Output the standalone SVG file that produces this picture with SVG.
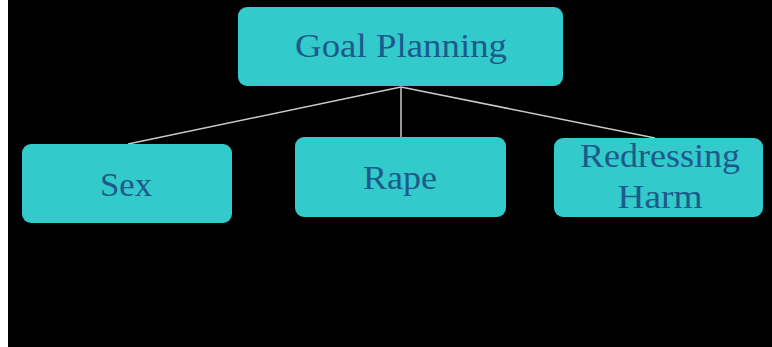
<svg xmlns="http://www.w3.org/2000/svg" width="772" height="347" viewBox="0 0 772 347">
  <style>
    .node { fill: #33CACB; }
    .label { font-family: "Liberation Serif", "Times New Roman", serif; font-size: 33px; fill: #1D5A8A; text-anchor: middle; }
    .conn { stroke: #C8C8C8; stroke-width: 1.5; fill: none; }
  </style>
  <rect x="0" y="0" width="772" height="347" fill="#000000"/>
  <rect x="0" y="0" width="8" height="347" fill="#FFFFFF"/>
  <g id="connectors">
    <line class="conn" x1="401" y1="87" x2="128" y2="144"/>
    <line class="conn" x1="401" y1="87" x2="401" y2="137"/>
    <line class="conn" x1="401" y1="87" x2="655" y2="138"/>
  </g>
  <g id="node-goal-planning">
    <rect class="node" x="238" y="7" width="325" height="79" rx="9"/>
    <text class="label" x="401" y="57" textLength="212" lengthAdjust="spacingAndGlyphs">Goal Planning</text>
  </g>
  <g id="node-sex">
    <rect class="node" x="22" y="144" width="210" height="79" rx="9"/>
    <text class="label" x="126" y="196" textLength="52" lengthAdjust="spacingAndGlyphs">Sex</text>
  </g>
  <g id="node-rape">
    <rect class="node" x="295" y="137" width="211" height="80" rx="9"/>
    <text class="label" x="400" y="189" textLength="74" lengthAdjust="spacingAndGlyphs">Rape</text>
  </g>
  <g id="node-redressing-harm">
    <rect class="node" x="554" y="138" width="209" height="79" rx="9"/>
    <text class="label" x="660" y="167" textLength="160" lengthAdjust="spacingAndGlyphs">Redressing</text>
    <text class="label" x="660" y="208" textLength="85" lengthAdjust="spacingAndGlyphs">Harm</text>
  </g>
</svg>
